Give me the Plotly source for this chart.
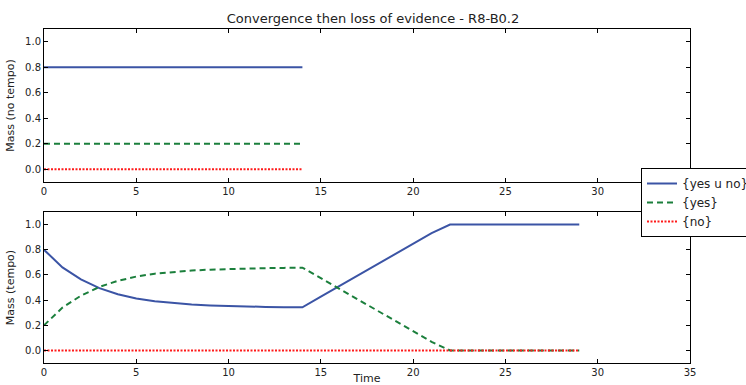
import plotly.graph_objects as go
from plotly.subplots import make_subplots

# ---- data ----
time_top = [0, 1, 2, 3, 4, 5, 6, 7, 8, 9, 10, 11, 12, 13, 14]
top_yes_u_no = [0.8, 0.8, 0.8, 0.8, 0.8, 0.8, 0.8, 0.8, 0.8, 0.8, 0.8, 0.8, 0.8, 0.8, 0.8]
top_yes = [0.2, 0.2, 0.2, 0.2, 0.2, 0.2, 0.2, 0.2, 0.2, 0.2, 0.2, 0.2, 0.2, 0.2, 0.2]
top_no = [0.0, 0.0, 0.0, 0.0, 0.0, 0.0, 0.0, 0.0, 0.0, 0.0, 0.0, 0.0, 0.0, 0.0, 0.0]

time_bottom = [0, 1, 2, 3, 4, 5, 6, 7, 8, 9, 10, 11, 12, 13, 14,
               15, 16, 17, 18, 19, 20, 21, 22, 23, 24, 25, 26, 27, 28, 29]
bot_yes_u_no = [0.80, 0.66, 0.565, 0.495, 0.447, 0.413, 0.39, 0.375, 0.365, 0.358,
                0.353, 0.349, 0.346, 0.344, 0.343, 0.427, 0.511, 0.595, 0.680, 0.764,
                0.848, 0.932, 1.0, 1.0, 1.0, 1.0, 1.0, 1.0, 1.0, 1.0]
bot_yes = [0.20, 0.34, 0.435, 0.505, 0.553, 0.587, 0.61, 0.625, 0.635, 0.642,
           0.647, 0.651, 0.654, 0.656, 0.658, 0.575, 0.49, 0.405, 0.32, 0.236,
           0.152, 0.068, 0.0, 0.0, 0.0, 0.0, 0.0, 0.0, 0.0, 0.0]
bot_no = [0.0, 0.0, 0.0, 0.0, 0.0, 0.0, 0.0, 0.0, 0.0, 0.0,
          0.0, 0.0, 0.0, 0.0, 0.0, 0.0, 0.0, 0.0, 0.0, 0.0,
          0.0, 0.0, 0.0, 0.0, 0.0, 0.0, 0.0, 0.0, 0.0, 0.0]

series_names = ["{yes u no}", "{yes}", "{no}"]
y_ticks = [0.0, 0.2, 0.4, 0.6, 0.8, 1.0]
x_ticks = [0, 5, 10, 15, 20, 25, 30, 35]

BLUE = "#3b54a5"
GREEN = "#1b7f3c"
RED = "#ff1a1a"
styles = [
    dict(color=BLUE, width=2, dash="solid"),
    dict(color=GREEN, width=2, dash="6px,4px"),
    dict(color=RED, width=2, dash="2px,1.5px"),
]

fig = make_subplots(rows=2, cols=1)

top_series = [top_yes_u_no, top_yes, top_no]
bot_series = [bot_yes_u_no, bot_yes, bot_no]
for i, name in enumerate(series_names):
    fig.add_trace(go.Scatter(x=time_top, y=top_series[i], mode="lines", name=name,
                             line=styles[i], legendgroup=name, showlegend=False),
                  row=1, col=1)
for i, name in enumerate(series_names):
    fig.add_trace(go.Scatter(x=time_bottom, y=bot_series[i], mode="lines", name=name,
                             line=styles[i], legendgroup=name, showlegend=True),
                  row=2, col=1)

axis_common = dict(showline=True, linecolor="black", linewidth=1, mirror="ticks",
                   ticks="inside", ticklen=4, tickcolor="black", showgrid=False,
                   zeroline=False, tickfont=dict(size=10, color="#222"))

fig.update_xaxes(range=[0, 35], tickvals=x_ticks, **axis_common)
fig.update_yaxes(range=[-0.1, 1.1], tickvals=y_ticks, tickformat=".1f", **axis_common)

fig.update_layout(
    width=746, height=385,
    margin=dict(l=44, r=56, t=29, b=22, autoexpand=False),
    paper_bgcolor="white", plot_bgcolor="white",
    font=dict(family="DejaVu Sans", size=11, color="#222"),
    title=dict(text="Convergence then loss of evidence - R8-B0.2", x=0.5, xref="container",
               y=1 - 18 / 385, yref="container", xanchor="center", yanchor="middle",
               font=dict(size=13, color="#222")),
    xaxis=dict(domain=[0, 1], anchor="y"),
    yaxis=dict(domain=[0.542, 1.0], anchor="x",
               title=dict(text="Mass (no tempo)", font=dict(size=11), standoff=8)),
    xaxis2=dict(domain=[0, 1], anchor="y2",
                title=dict(text="Time", font=dict(size=11), standoff=2)),
    yaxis2=dict(domain=[0.0, 0.452], anchor="x2",
                title=dict(text="Mass (tempo)", font=dict(size=11), standoff=8)),
    legend=dict(x=641 / 746, y=1 - 168 / 385, xref="container", yref="container",
                xanchor="left", yanchor="top",
                bgcolor="white", bordercolor="black", borderwidth=1,
                font=dict(size=12, color="#222"), tracegroupgap=0, itemwidth=30),
)
fig.update_xaxes(automargin=False)
fig.update_yaxes(automargin=False)

fig.write_html("out.html")
